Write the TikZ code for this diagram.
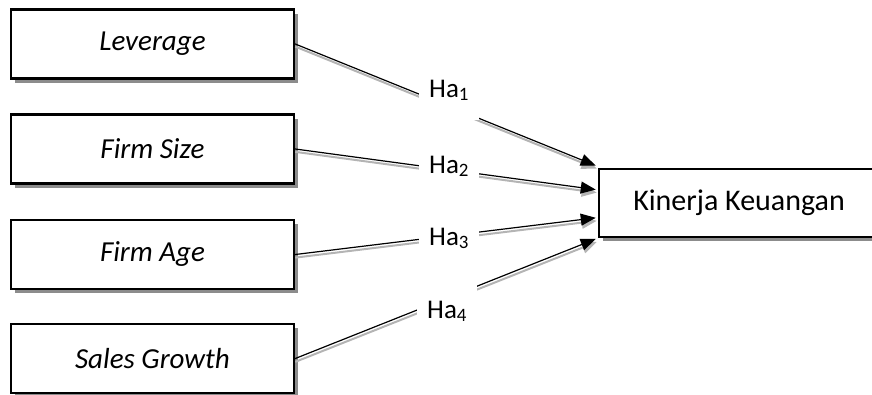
\documentclass[tikz,border=0pt]{standalone}
\usepackage{fontspec}
\setmainfont{Carlito}
\usetikzlibrary{arrows.meta,shadows,calc}

\begin{document}
\begin{tikzpicture}[x=1pt,y=-1pt,line cap=rect,
	varbox/.style={draw=black,line width=2.5pt,fill=white,minimum width=283pt,minimum height=69pt,inner sep=0pt,
		font=\fontsize{29pt}{29pt}\selectfont\itshape,
		drop shadow={shadow xshift=4pt,shadow yshift=-4pt,fill=custcol_8c_8c_8c,opacity=1}},
	resbox/.style={varbox,minimum width=280pt,minimum height=68pt,font=\fontsize{30pt}{30pt}\selectfont},
	conn/.style={draw=black,line width=1.2pt,-{Triangle[length=15pt,width=12pt]}},
	shadeline/.style={draw=custcol_b4_b4_b4,line width=2pt,-{Triangle[length=15pt,width=12pt]},
		transform canvas={shift={(1pt,-3pt)}}},
	hyplabel/.style={fill=white,inner xsep=10pt,inner ysep=3pt,text height=19pt,text depth=6pt,anchor=base west,
		font=\fontsize{27pt}{27pt}\selectfont}]
					\definecolor{custcol_8c_8c_8c}{RGB}{140, 140, 140}
					\definecolor{custcol_b4_b4_b4}{RGB}{180, 180, 180}
					\useasboundingbox (0,0) rectangle (872,394);
					\node[varbox] (lev) at (152.5,44.0) {Leverage};
					\node[varbox] (size) at (152.5,149.0) {Firm Size};
					\node[varbox] (age) at (152.5,254.5) {Firm Age};
					\node[varbox] (growth) at (152.5,358.5) {Sales Growth};
					\node[resbox] (perf) at (739.0,203.0) {Kinerja Keuangan};
					\coordinate (in1) at ($(perf.north west)!-0.03!(perf.south west)+(-2,0)$);
					\coordinate (in2) at ($(perf.north west)!0.31!(perf.south west)+(-2,0)$);
					\coordinate (in3) at ($(perf.north west)!0.71!(perf.south west)+(-2,0)$);
					\coordinate (in4) at ($(perf.north west)!1.01!(perf.south west)+(-2,0)$);
					\draw [shadeline] (lev.east) -- (in1);
					\draw [conn] (lev.east) -- (in1);
					\draw [shadeline] (size.east) -- (in2);
					\draw [conn] (size.east) -- (in2);
					\draw [shadeline] (age.east) -- (in3);
					\draw [conn] (age.east) -- (in3);
					\draw [shadeline] (growth.east) -- (in4);
					\draw [conn] (growth.east) -- (in4);
					\node[hyplabel,text depth=20pt] (ha1) at (419.0,97.0) {Ha\textsubscript{1}};
					\node[hyplabel] (ha2) at (419.0,173.0) {Ha\textsubscript{2}};
					\node[hyplabel] (ha3) at (419.0,245.0) {Ha\textsubscript{3}};
					\node[hyplabel,text height=30pt] (ha4) at (417.0,318.0) {Ha\textsubscript{4}};
				\end{tikzpicture}
\end{document}
